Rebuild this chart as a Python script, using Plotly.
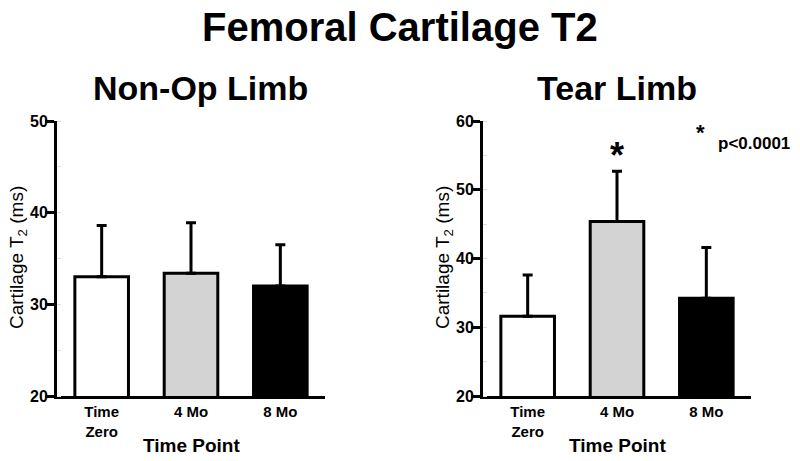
import plotly.graph_objects as go

categories = ["Time<br>Zero", "4 Mo", "8 Mo"]
nonop_mean = [33.0, 33.4, 32.0]
nonop_sd = [5.6, 5.5, 4.5]
tear_mean = [31.6, 45.4, 34.2]
tear_sd = [6.0, 7.3, 7.4]
bar_colors = ["white", "#d3d3d3", "black"]

FONT = "Arial, Liberation Sans, sans-serif"

W, H = 800, 461


def px(x):
    return x / W


def py(y):
    return 1 - y / H


fig = go.Figure()
fig.add_trace(go.Bar(
    x=categories, y=nonop_mean, width=0.6,
    marker=dict(color=bar_colors, line=dict(color="black", width=3)),
    error_y=dict(type="data", symmetric=False, array=nonop_sd, arrayminus=[0, 0, 0],
                 color="black", thickness=3, width=5),
    xaxis="x", yaxis="y", showlegend=False))
fig.add_trace(go.Bar(
    x=categories, y=tear_mean, width=0.6,
    marker=dict(color=bar_colors, line=dict(color="black", width=3)),
    error_y=dict(type="data", symmetric=False, array=tear_sd, arrayminus=[0, 0, 0],
                 color="black", thickness=3, width=5),
    xaxis="x2", yaxis="y2", showlegend=False))

ydom = [py(396), py(121)]

xcommon = dict(showline=True, linewidth=3, linecolor="black", ticks="",
               tickfont=dict(family=FONT, size=15, color="black", weight="bold"),
               range=[-0.5, 2.5], showgrid=False, zeroline=False, automargin=False)
ycommon = dict(showline=True, linewidth=3, linecolor="black", ticks="outside",
               ticklen=9, tickwidth=3, tickcolor="black", dtick=10,
               ticklabelstandoff=-6,
               tickfont=dict(family=FONT, size=16, color="black", weight="bold"),
               showgrid=False, zeroline=False, automargin=False,
               minor=dict(ticks="inside", ticklen=4, tickwidth=1, tickcolor="#dddddd", dtick=5))


def ann(text, x, y, size, anchor="center", angle=0):
    return dict(text=text, x=px(x), y=py(y), xref="paper", yref="paper", showarrow=False,
                font=dict(family=FONT, size=size, color="black"), textangle=angle,
                xanchor=anchor, yanchor="middle")


fig.update_layout(
    width=W, height=H,
    margin=dict(l=0, r=0, t=0, b=0),
    paper_bgcolor="white", plot_bgcolor="white",
    xaxis=dict(domain=[px(57), px(325)], anchor="y", **xcommon),
    yaxis=dict(domain=ydom, anchor="x", range=[20, 50], **ycommon),
    xaxis2=dict(domain=[px(483), px(751)], anchor="y2", **xcommon),
    yaxis2=dict(domain=ydom, anchor="x2", range=[20, 60], **ycommon),
    annotations=[
        ann("<b>Femoral Cartilage T2</b>", 400, 27, 40),
        ann("<b>Non-Op Limb</b>", 200, 88, 34),
        ann("<b>Tear Limb</b>", 617, 88, 34),
        ann("<b>Time Point</b>", 191, 445, 19),
        ann("<b>Time Point</b>", 617, 445, 19),
        ann("Cartilage T<sub>2</sub> (ms)", 18, 258, 19, angle=-90),
        ann("Cartilage T<sub>2</sub> (ms)", 444, 258, 19, angle=-90),
        dict(text="<b>*</b>", x="4 Mo", y=55.0, xref="x2", yref="y2",
             showarrow=False, font=dict(family=FONT, size=36, color="black"),
             xanchor="center", yanchor="middle"),
        ann("<b>*</b>", 700, 132, 22),
        ann("<b>p<0.0001</b>", 716, 143, 17, anchor="left"),
    ],
)

# remove the browser's default 8px body margin so the figure fills the window
fig.write_html("out.html", config={"displayModeBar": False},
               post_script="document.body.style.margin='0';")
